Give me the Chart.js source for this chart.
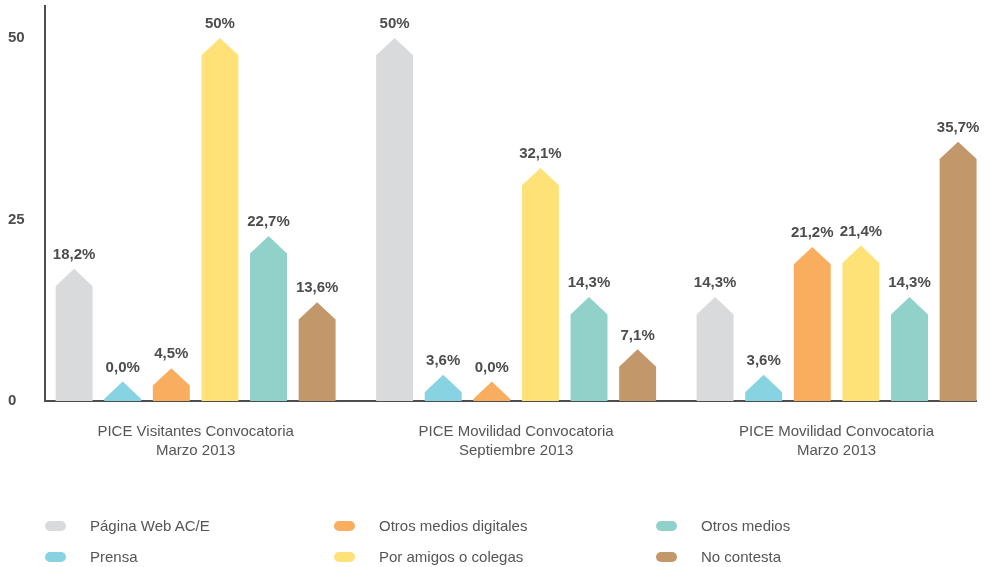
<!DOCTYPE html>
<html lang="es">
<head>
<meta charset="utf-8">
<title>Difusión PICE</title>
<script src="https://cdn.jsdelivr.net/npm/chart.js@4.4.0/dist/chart.umd.min.js"></script>
<style>
  html, body { margin: 0; padding: 0; background: #fff; overflow: hidden; }
  #wrap { position: relative; width: 989px; height: 567px; }
  #legend {
    position: absolute; left: 45px; top: 510px;
    display: grid; grid-template-columns: 289px 322px auto; grid-template-rows: 31px 31px;
    grid-auto-flow: column;
    font: 15px "Liberation Sans", Arial, sans-serif; color: #555;
  }
  #legend .item { display: flex; align-items: center; }
  #legend .swatch { width: 21px; height: 10px; border-radius: 5px; margin-right: 24px; }
</style>
</head>
<body>
<div id="wrap">
  <canvas id="chart"></canvas>
  <div id="legend"></div>
</div>
<script>
const groups = [
  ['PICE Visitantes Convocatoria', 'Marzo 2013'],
  ['PICE Movilidad Convocatoria', 'Septiembre 2013'],
  ['PICE Movilidad Convocatoria', 'Marzo 2013']
];
const seriesNames = ['Página Web AC/E', 'Prensa', 'Otros medios digitales', 'Por amigos o colegas', 'Otros medios', 'No contesta'];
const paginaWeb = [18.2, 50, 14.3];
const prensa = [0, 3.6, 3.6];
const otrosDigitales = [4.5, 0, 21.2];
const porAmigos = [50, 32.1, 21.4];
const otrosMedios = [22.7, 14.3, 14.3];
const noContesta = [13.6, 7.1, 35.7];
const yTicks = [0, 25, 50];

const seriesValues = [paginaWeb, prensa, otrosDigitales, porAmigos, otrosMedios, noContesta];
const seriesColors = ['#d9dadc', '#87d3e1', '#f9ad5e', '#fee278', '#90d1c9', '#c2976a'];

const FONT = '"Liberation Sans", Arial, sans-serif';
const INK = '#4d4d4d';

function fmt(v) {
  const txt = Number.isInteger(v) && v !== 0 ? String(v) : v.toFixed(1).replace('.', ',');
  return txt + '%';
}

// bar shape: rectangle with a pointed roof, peak sits at the value
function barGeometry(bar) {
  const roof = bar.width * 0.47;
  const peak = Math.min(bar.y, bar.base - roof - 2);
  const shoulder = Math.min(peak + roof, bar.base);
  return { peak, shoulder, half: bar.width / 2 };
}

const houseBars = {
  id: 'houseBars',
  beforeDatasetDraw(chart, args) {
    const ctx = chart.ctx;
    ctx.save();
    ctx.fillStyle = chart.data.datasets[args.index].backgroundColor;
    args.meta.data.forEach(bar => {
      const { peak, shoulder, half } = barGeometry(bar);
      ctx.beginPath();
      ctx.moveTo(bar.x - half, bar.base);
      ctx.lineTo(bar.x - half, shoulder);
      ctx.lineTo(bar.x, peak);
      ctx.lineTo(bar.x + half, shoulder);
      ctx.lineTo(bar.x + half, bar.base);
      ctx.closePath();
      ctx.fill();
    });
    ctx.restore();
    return false;
  },
  afterDatasetsDraw(chart) {
    const ctx = chart.ctx;
    ctx.save();
    ctx.font = 'bold 15px ' + FONT;
    ctx.fillStyle = INK;
    ctx.textAlign = 'center';
    ctx.textBaseline = 'middle';
    chart.data.datasets.forEach((ds, i) => {
      chart.getDatasetMeta(i).data.forEach((bar, j) => {
        const { peak } = barGeometry(bar);
        ctx.fillText(fmt(ds.data[j].y), bar.x, peak - 14);
      });
    });
    ctx.restore();
  }
};

const datasets = seriesNames.map((name, i) => ({
  label: name,
  data: seriesValues[i].map((v, j) => ({ x: j, y: v })),
  backgroundColor: seriesColors[i],
  categoryPercentage: 0.91,
  barPercentage: 0.76
}));

const chart = new Chart(document.getElementById('chart'), {
  type: 'bar',
  data: { datasets },
  options: {
    responsive: true,
    maintainAspectRatio: false,
    animation: false,
    layout: { padding: { top: 6, left: 8, right: 13, bottom: 86 } },
    plugins: { legend: { display: false }, tooltip: { enabled: false } },
    scales: {
      x: {
        type: 'linear',
        offset: false,
        min: -0.47,
        max: 2.435,
        z: 1,
        afterBuildTicks: s => { s.ticks = groups.map((g, i) => ({ value: i })); },
        grid: { display: false, drawTicks: false, offset: false },
        border: { display: true, color: INK, width: 2 },
        ticks: {
          autoSkip: false, maxRotation: 0, padding: 21, color: '#555',
          font: { family: FONT, size: 15, lineHeight: 1.27 },
          callback: v => groups[v]
        }
      },
      y: {
        min: 0,
        max: 54.4,
        z: 1,
        afterBuildTicks: s => { s.ticks = yTicks.map(v => ({ value: v })); },
        afterFit: s => { s.width = 37; s.paddingTop = 0; s.paddingBottom = 0; },
        grid: { display: false, drawTicks: false },
        border: { display: true, color: INK, width: 2 },
        ticks: { crossAlign: 'far', padding: 8, color: INK, font: { family: FONT, size: 15, weight: 'bold' } }
      }
    }
  },
  plugins: [houseBars]
});

// legend laid out in columns, two entries each
const legend = document.getElementById('legend');
chart.data.datasets.forEach(ds => {
  const item = document.createElement('div');
  item.className = 'item';
  const swatch = document.createElement('span');
  swatch.className = 'swatch';
  swatch.style.background = ds.backgroundColor;
  item.appendChild(swatch);
  item.appendChild(document.createTextNode(ds.label));
  legend.appendChild(item);
});
</script>
</body>
</html>
